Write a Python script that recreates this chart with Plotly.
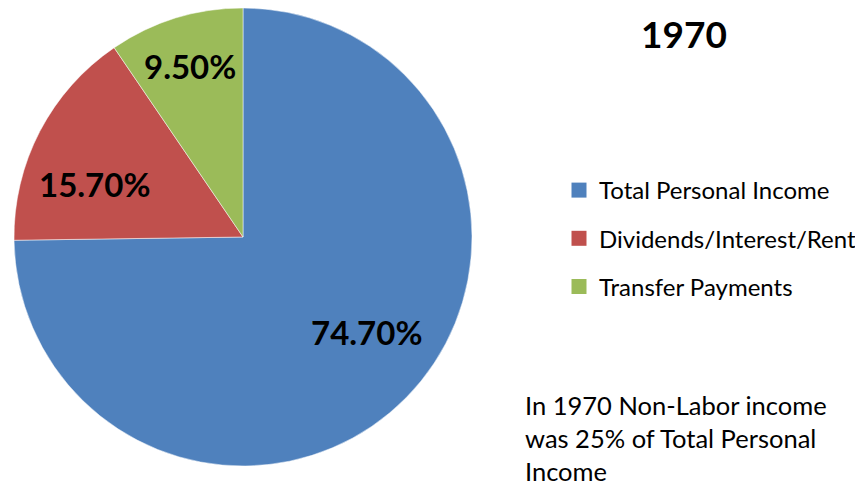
import math
import plotly.graph_objects as go

categories = ["Total Personal Income", "Dividends/Interest/Rent", "Transfer Payments"]
shares = [74.7, 15.7, 9.5]
colors = ["#4F81BD", "#C0504D", "#9BBB59"]
title_text = "1970"
note_text = "In 1970 Non-Labor income<br>was 25% of Total Personal<br>Income"

# label placement style: fraction of radius and angular nudge (deg) from each slice's mid-angle
label_radius = [0.68, 0.69, 0.78]
label_angle_nudge = [-7, -8, 0]

# the page shows the figure offset by 8px (body margin); size the figure to the visible area
W, H = 855, 478
FONT = "Lato"
CX, CY, R = 235, 229, 229

fig = go.Figure()
fig.add_trace(go.Pie(
    labels=categories,
    values=shares,
    sort=False,
    direction="clockwise",
    rotation=0,
    marker=dict(colors=colors, line=dict(color="white", width=0.5)),
    textinfo="none",
    showlegend=False,
    hoverinfo="label+value",
    domain=dict(x=[(CX - R) / W, (CX + R) / W], y=[1 - (CY + R) / H, 1 - (CY - R) / H]),
))

for i, (c, col) in enumerate(zip(categories, colors)):
    fig.add_trace(go.Scatter(
        x=[None], y=[None], mode="markers", name=c,
        marker=dict(symbol="square", size=15, color=col),
        legendgroup=f"g{i}", showlegend=True,
    ))

annotations = []
total = sum(shares)
cum = 0.0
for v, rf, nd in zip(shares, label_radius, label_angle_nudge):
    mid = (cum + v / 2) / total * 2 * math.pi + math.radians(nd)  # clockwise from 12 o'clock
    cum += v
    px = CX + rf * R * math.sin(mid)
    py = CY - rf * R * math.cos(mid)
    annotations.append(dict(
        text=f"<b>{v:.2f}%</b>", x=px / W, y=1 - py / H, xref="paper", yref="paper",
        xanchor="center", yanchor="middle", showarrow=False,
        font=dict(family=FONT, size=33, color="black")))

annotations += [
    dict(text=f"<b>{title_text}</b>", x=675.5 / W, y=1 - 26 / H, xref="paper", yref="paper",
         xanchor="center", yanchor="middle", showarrow=False,
         font=dict(family=FONT, size=37, color="black")),
    dict(text=note_text, x=515 / W, y=1 - 430 / H, xref="paper", yref="paper",
         xanchor="left", yanchor="middle", align="left", showarrow=False,
         font=dict(family=FONT, size=25.5, color="black")),
]

fig.update_layout(
    width=W, height=H,
    margin=dict(l=0, r=0, t=0, b=0),
    paper_bgcolor="white", plot_bgcolor="white",
    xaxis=dict(visible=False), yaxis=dict(visible=False),
    legend=dict(
        x=551 / W, xanchor="left", y=1 - 160 / H, yanchor="top",
        font=dict(family=FONT, size=24, color="black"),
        tracegroupgap=14, itemwidth=30, bgcolor="rgba(0,0,0,0)",
    ),
    annotations=annotations,
)

fig.write_html("out.html")
